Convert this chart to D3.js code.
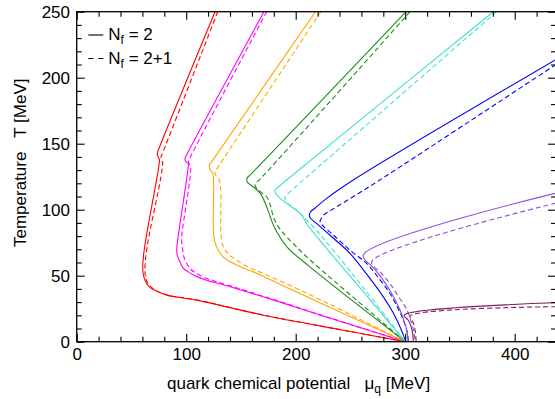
<!DOCTYPE html>
<html>
<head>
<meta charset="utf-8">
<script src="https://cdn.jsdelivr.net/npm/d3@7"></script>
<style>
  body { margin: 0; background: #fff; }
  svg text { font-family: "Liberation Sans", Arial, Helvetica, sans-serif; fill: #000; }
  .tickLabel { font-size: 17px; }
  .axisTitle { font-size: 17px; white-space: pre; }
  .legendText { font-size: 17px; }
</style>
</head>
<body>
<div id="plotdiv"></div>
<script>
// Data: [mu_q (MeV), T (MeV)]
const xTicksMajor = [0, 100, 200, 300, 400];
const yTicksMajor = [0, 50, 100, 150, 200, 250];

const redSolid = [[126.3,250],[74.5,145],[73.6,142.7],[74.2,140.2],[75.5,138],[75,133],[63,77],[61,65],[60.3,56],[61,50],[63.9,44.1],[67,41],[71.5,39],[82.2,35.3],[109.6,31.5],[170.4,20.1],[222,12],[300,0]];
const redDashed = [[128.8,250],[78,142],[77,140],[77.6,137.5],[78.5,135.5],[66,80],[64,70],[62.6,60],[62.4,52],[63.5,47],[66,43],[71.5,39.3],[82.2,35.5],[109.6,31.6],[170.4,20.2],[222,12],[300,0]];

const magentaSolid = [[171,250],[100,141],[98.9,138.9],[99.5,136.5],[101.9,135],[101.5,130],[92.2,77],[91.3,69.4],[92,65],[94.3,60.5],[97,56],[101.9,52.9],[110,49.3],[118.7,46.6],[140,41.6],[185.7,30],[222,20.3],[300,0]];
const magentaDashed = [[173.5,250],[103,138.5],[102,136.3],[102.8,134.5],[104,133],[95.9,80],[95.9,75],[96.8,69.4],[98,64],[100.5,59.3],[104,55],[109.6,51.7],[118,48],[127.9,45.4],[150,39.8],[185.7,30.4],[222,20.5],[300,0]];

const orangeSolid = [[218,250],[123,136],[121.1,133.8],[121.5,131],[124.3,127.5],[125,120],[124.8,100],[124.8,84.5],[126,76],[129.3,69.4],[134,64],[140,60.5],[150,56.5],[161.3,52.9],[194.8,40],[222,29.5],[300,0]];
const orangeDashed = [[223,250],[128,131],[126.3,128.8],[127,126],[130.2,122.5],[131.5,115],[131.6,100],[131.6,84],[133.9,71.9],[139,66],[146,61.8],[157,56.5],[170.4,51.7],[200.9,40.3],[222,32],[300,0]];

const greenSolid = [[300.8,250],[158,126],[156,124.5],[155.3,123],[156.2,120.5],[161.3,117.4],[168,112],[174,101],[180.3,87],[191.8,72],[213,56.7],[300,0]];
const greenDashed = [[304.4,250],[166,122],[163.8,120.5],[162.8,118.7],[164,116.5],[168,113.5],[173.5,109.8],[177,103],[179.6,94.6],[185,86],[191.8,79.5],[200,72.5],[210,64.3],[300,0]];

const cyanSolid = [[380.5,250],[188,120],[183,116.5],[181.1,114.9],[182,112],[185.7,108.6],[194.8,103],[203.9,97.2],[213,86],[255,44.5],[300,0]];
const cyanDashed = [[383.5,250],[196,114.5],[192,111.5],[190.2,109.8],[191,107],[195,103],[200,100],[215,88],[255,48],[300,0]];

const blueSolid = [[437.7,213.8],[252.6,122.5],[228.3,108.6],[218,101.5],[213.5,98.3],[212.4,95.9],[213.5,93.5],[219.2,89.5],[235,78],[249.6,66.9],[265,51],[280,34],[289,22],[295.3,11.2],[298.8,4],[300.5,0]];
const blueDashed = [[437.7,210],[290.7,130],[264.8,116.2],[237.4,102.2],[228,97.5],[224.5,95],[222.2,90.8],[224,88.5],[234.4,80.8],[250,69],[264.8,59.3],[276,48],[286.1,36.5],[293,26],[298.3,16.3],[301.5,8],[303,0]];

const purpleSolid = [[437.7,112.6],[261.7,65.6],[271,56],[280,46.5],[288,36],[295.3,24],[299.5,14],[301.4,8.7],[302.8,0]];
const purpleDashed = [[437.7,105],[269.4,60.5],[278,52],[286.1,44.1],[294,34],[301.4,24.5],[305.5,15],[307.8,8],[309,0]];

const maroonSolid = [[437.7,29.5],[299,20.1],[303,16],[305.5,11],[307,5],[307.4,0]];
const maroonDashed = [[437.7,26.5],[304.4,19.4],[307,15],[309,9],[310,0]];

const seriesList = [
  {pts: redSolid, color: "#ff0000", dashed: false},
  {pts: redDashed, color: "#ff0000", dashed: true},
  {pts: magentaSolid, color: "#ff00ff", dashed: false},
  {pts: magentaDashed, color: "#ff00ff", dashed: true},
  {pts: orangeSolid, color: "#ffa500", dashed: false},
  {pts: orangeDashed, color: "#ffa500", dashed: true},
  {pts: greenSolid, color: "#1a8c1a", dashed: false},
  {pts: greenDashed, color: "#1a8c1a", dashed: true},
  {pts: cyanSolid, color: "#40e0d0", dashed: false},
  {pts: cyanDashed, color: "#40e0d0", dashed: true},
  {pts: blueSolid, color: "#0000ff", dashed: false},
  {pts: blueDashed, color: "#0000ff", dashed: true},
  {pts: purpleSolid, color: "#8c4fd6", dashed: false},
  {pts: purpleDashed, color: "#8c4fd6", dashed: true},
  {pts: maroonSolid, color: "#7a1f5c", dashed: false},
  {pts: maroonDashed, color: "#7a1f5c", dashed: true}
];

let plotLeft = 76.7;
let plotRight = 556;
let plotTop = 11.7;
let plotBottom = 341.7;
let majorTick = 8;
let minorTick = 5;

var svg = d3.select('#plotdiv').append('svg')
  .attr('width', 555)
  .attr('height', 399);

let xScale = d3.scaleLinear()
  .domain([0, 437.7])
  .range([plotLeft, plotRight]);
let yScale = d3.scaleLinear()
  .domain([0, 250])
  .range([plotBottom, plotTop]);

svg.append('clipPath').attr('id', 'plotClip')
  .append('rect')
  .attr('x', plotLeft).attr('y', plotTop)
  .attr('width', plotRight - plotLeft).attr('height', plotBottom - plotTop);

// curves
let lineGen = d3.line()
  .x(d => xScale(d[0]))
  .y(d => yScale(d[1]))
  .curve(d3.curveCatmullRom.alpha(0.5));

let curveGroup = svg.append('g').attr('clip-path', 'url(#plotClip)');
curveGroup.selectAll('path')
  .data(seriesList)
  .enter().append('path')
  .attr('d', d => lineGen(d.pts))
  .attr('fill', 'none')
  .attr('stroke', d => d.color)
  .attr('stroke-width', 1.1)
  .attr('stroke-dasharray', d => d.dashed ? '5,3' : null);

// axes (ticks point inward)
function minorValues(step, max) {
  return d3.range(0, max + 0.001, step);
}
let xMinor = minorValues(20, 437).filter(v => v % 100 !== 0);
let yMinor = minorValues(10, 250).filter(v => v % 50 !== 0);

svg.append('g')
  .attr('transform', `translate(0, ${plotBottom})`)
  .call(d3.axisBottom(xScale).tickValues(xTicksMajor).tickSize(-majorTick).tickPadding(6.7).tickFormat(d3.format('d')));
svg.append('g')
  .attr('transform', `translate(0, ${plotBottom})`)
  .call(d3.axisBottom(xScale).tickValues(xMinor).tickSize(-minorTick).tickFormat(''));
svg.append('g')
  .attr('transform', `translate(0, ${plotTop})`)
  .call(d3.axisTop(xScale).tickValues(xTicksMajor).tickSize(-majorTick).tickFormat(''));
svg.append('g')
  .attr('transform', `translate(0, ${plotTop})`)
  .call(d3.axisTop(xScale).tickValues(xMinor).tickSize(-minorTick).tickFormat(''));

svg.append('g')
  .attr('transform', `translate(${plotLeft}, 0)`)
  .call(d3.axisLeft(yScale).tickValues(yTicksMajor).tickSize(-majorTick).tickPadding(6.7).tickFormat(d3.format('d')));
svg.append('g')
  .attr('transform', `translate(${plotLeft}, 0)`)
  .call(d3.axisLeft(yScale).tickValues(yMinor).tickSize(-minorTick).tickFormat(''));
svg.append('g')
  .attr('transform', `translate(${plotRight}, 0)`)
  .call(d3.axisRight(yScale).tickValues(yTicksMajor).tickSize(-majorTick).tickFormat(''));
svg.append('g')
  .attr('transform', `translate(${plotRight}, 0)`)
  .call(d3.axisRight(yScale).tickValues(yMinor).tickSize(-minorTick).tickFormat(''));

svg.selectAll('.domain').remove();
svg.selectAll('.tick line').attr('stroke', '#000').attr('stroke-width', 1.1);
svg.selectAll('.tick text').attr('class', 'tickLabel').attr('font-family', null).attr('font-size', null);

// frame
svg.append('rect')
  .attr('x', plotLeft).attr('y', plotTop)
  .attr('width', plotRight - plotLeft).attr('height', plotBottom - plotTop)
  .attr('fill', 'none').attr('stroke', '#000').attr('stroke-width', 1.3);

// axis titles
let xTitle = svg.append('text')
  .attr('class', 'axisTitle')
  .attr('x', 167)
  .attr('y', 389);
xTitle.append('tspan').text('quark chemical potential   \u03bc');
xTitle.append('tspan').attr('font-size', '12px').attr('dy', 4).text('q');
xTitle.append('tspan').attr('dy', -4).text(' [MeV]');

svg.append('text')
  .attr('class', 'axisTitle')
  .attr('transform', 'rotate(-90)')
  .attr('x', -247)
  .attr('y', 26)
  .text('Temperature   T [MeV]');

// legend
let legendRows = [{label: '2', dashed: false, y: 35}, {label: '2+1', dashed: true, y: 58.5}];
let legend = svg.append('g');
legendRows.forEach(function(r) {
  legend.append('line')
    .attr('x1', 88.3).attr('x2', 103.3)
    .attr('y1', r.y).attr('y2', r.y)
    .attr('stroke', '#000').attr('stroke-width', 1.1)
    .attr('stroke-dasharray', r.dashed ? '5,5' : null);
  let t = legend.append('text')
    .attr('class', 'legendText')
    .attr('x', 108.3)
    .attr('y', r.y + 5.3);
  t.append('tspan').text('N');
  t.append('tspan').attr('font-size', '12px').attr('dy', 4).text('f');
  t.append('tspan').attr('dy', -4).text(' = ' + r.label);
});
</script>
</body>
</html>
